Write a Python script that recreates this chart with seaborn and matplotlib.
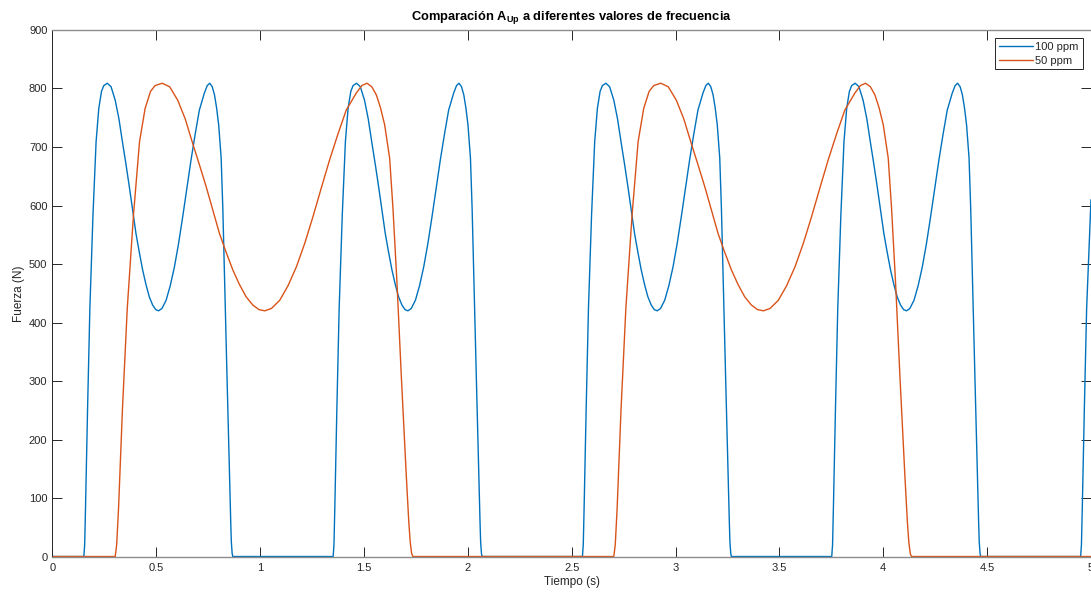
import matplotlib
matplotlib.use('Agg')
import matplotlib.pyplot as plt
import seaborn as sns
from matplotlib.ticker import FixedLocator, FixedFormatter

# ---------------- data ----------------
# 100 ppm series (time in s, force in N)
blue_t = [0.0,
    0.152, 0.156, 0.160, 0.170, 0.181, 0.196, 0.211, 0.224, 0.237, 0.248, 0.265, 0.283, 0.303,
    0.321, 0.339, 0.355, 0.371, 0.387, 0.403, 0.419, 0.435, 0.451, 0.467, 0.483, 0.498, 0.512,
    0.528, 0.548, 0.568, 0.588, 0.608, 0.628, 0.648, 0.668, 0.688, 0.708, 0.732, 0.746, 0.758,
    0.770, 0.781, 0.791, 0.801, 0.813, 0.821, 0.830, 0.841, 0.853, 0.859, 0.862, 0.866, 0.869,
    1.352, 1.356, 1.360, 1.370, 1.381, 1.396, 1.411, 1.424, 1.437, 1.448, 1.465, 1.483, 1.503,
    1.521, 1.539, 1.555, 1.571, 1.587, 1.603, 1.619, 1.635, 1.651, 1.667, 1.683, 1.698, 1.712,
    1.728, 1.748, 1.768, 1.788, 1.808, 1.828, 1.848, 1.868, 1.888, 1.908, 1.932, 1.946, 1.958,
    1.970, 1.981, 1.991, 2.001, 2.013, 2.021, 2.030, 2.041, 2.053, 2.059, 2.062, 2.066, 2.069,
    2.552, 2.556, 2.560, 2.570, 2.581, 2.596, 2.611, 2.624, 2.637, 2.648, 2.665, 2.683, 2.703,
    2.721, 2.739, 2.755, 2.771, 2.787, 2.803, 2.819, 2.835, 2.851, 2.867, 2.883, 2.898, 2.912,
    2.928, 2.948, 2.968, 2.988, 3.008, 3.028, 3.048, 3.068, 3.088, 3.108, 3.132, 3.146, 3.158,
    3.170, 3.181, 3.191, 3.201, 3.213, 3.221, 3.230, 3.241, 3.253, 3.259, 3.262, 3.266, 3.269,
    3.752, 3.756, 3.760, 3.770, 3.781, 3.796, 3.811, 3.824, 3.837, 3.848, 3.865, 3.883, 3.903,
    3.921, 3.939, 3.955, 3.971, 3.987, 4.003, 4.019, 4.035, 4.051, 4.067, 4.083, 4.098, 4.112,
    4.128, 4.148, 4.168, 4.188, 4.208, 4.228, 4.248, 4.268, 4.288, 4.308, 4.332, 4.346, 4.358,
    4.370, 4.381, 4.391, 4.401, 4.413, 4.421, 4.430, 4.441, 4.453, 4.459, 4.462, 4.466, 4.469,
    4.950, 4.954, 4.958, 4.968, 4.979, 5.000]
blue_f = [0,
    0, 20, 82, 253, 424, 584, 709, 766, 795, 805, 809, 803, 780,
    748, 706, 670, 632, 592, 552, 520, 490, 465, 444, 430, 422, 420,
    424, 438, 463, 495, 535, 581, 630, 678, 722, 763, 792, 805, 809,
    803, 789, 767, 738, 681, 595, 470, 310, 139, 60, 25, 5, 0,
    0, 20, 82, 253, 424, 584, 709, 766, 795, 805, 809, 803, 780,
    748, 706, 670, 632, 592, 552, 520, 490, 465, 444, 430, 422, 420,
    424, 438, 463, 495, 535, 581, 630, 678, 722, 763, 792, 805, 809,
    803, 789, 767, 738, 681, 595, 470, 310, 139, 60, 25, 5, 0,
    0, 20, 82, 253, 424, 584, 709, 766, 795, 805, 809, 803, 780,
    748, 706, 670, 632, 592, 552, 520, 490, 465, 444, 430, 422, 420,
    424, 438, 463, 495, 535, 581, 630, 678, 722, 763, 792, 805, 809,
    803, 789, 767, 738, 681, 595, 470, 310, 139, 60, 25, 5, 0,
    0, 20, 82, 253, 424, 584, 709, 766, 795, 805, 809, 803, 780,
    748, 706, 670, 632, 592, 552, 520, 490, 465, 444, 430, 422, 420,
    424, 438, 463, 495, 535, 581, 630, 678, 722, 763, 792, 805, 809,
    803, 789, 767, 738, 681, 595, 470, 310, 139, 60, 25, 5, 0,
    0, 20, 82, 253, 424, 610]

# 50 ppm series
orange_t = [0.0,
    0.303, 0.310, 0.319, 0.338, 0.361, 0.391, 0.420, 0.447, 0.473, 0.495, 0.529, 0.565, 0.604,
    0.640, 0.676, 0.708, 0.741, 0.773, 0.805, 0.837, 0.869, 0.901, 0.933, 0.965, 0.995, 1.023,
    1.055, 1.095, 1.135, 1.175, 1.215, 1.255, 1.295, 1.335, 1.375, 1.415, 1.463, 1.490, 1.515,
    1.538, 1.560, 1.580, 1.600, 1.624, 1.640, 1.659, 1.680, 1.704, 1.716, 1.723, 1.730, 1.736,
    2.703, 2.710, 2.719, 2.738, 2.761, 2.791, 2.820, 2.847, 2.873, 2.895, 2.929, 2.965, 3.004,
    3.040, 3.076, 3.108, 3.141, 3.173, 3.205, 3.237, 3.269, 3.301, 3.333, 3.365, 3.395, 3.423,
    3.455, 3.495, 3.535, 3.575, 3.615, 3.655, 3.695, 3.735, 3.775, 3.815, 3.863, 3.890, 3.915,
    3.938, 3.960, 3.980, 4.000, 4.024, 4.040, 4.059, 4.080, 4.104, 4.116, 4.123, 4.130, 4.136,
    5.000]
orange_f = [0,
    0, 20, 82, 253, 424, 584, 709, 766, 795, 805, 809, 803, 780,
    748, 706, 670, 632, 592, 552, 520, 490, 465, 444, 430, 422, 420,
    424, 438, 463, 495, 535, 581, 630, 678, 722, 763, 792, 805, 809,
    803, 789, 767, 738, 681, 595, 470, 310, 139, 60, 25, 5, 0,
    0, 20, 82, 253, 424, 584, 709, 766, 795, 805, 809, 803, 780,
    748, 706, 670, 632, 592, 552, 520, 490, 465, 444, 430, 422, 420,
    424, 438, 463, 495, 535, 581, 630, 678, 722, 763, 792, 805, 809,
    803, 789, 767, 738, 681, 595, 470, 310, 139, 60, 25, 5, 0,
    0]

series_labels = ['100 ppm', '50 ppm']
x_ticks = [0, 0.5, 1, 1.5, 2, 2.5, 3, 3.5, 4, 4.5, 5]
x_tick_labels = ['0', '0.5', '1', '1.5', '2', '2.5', '3', '3.5', '4', '4.5', '5']
y_ticks = [0, 100, 200, 300, 400, 500, 600, 700, 800, 900]
y_tick_labels = ['0', '100', '200', '300', '400', '500', '600', '700', '800', '900']

# ---------------- styling ----------------
sns.set_style('ticks')
plt.rcParams['font.family'] = ['Liberation Sans', 'DejaVu Sans']
plt.rcParams['mathtext.fontset'] = 'custom'
plt.rcParams['mathtext.rm'] = 'Liberation Sans'
plt.rcParams['mathtext.bf'] = 'Liberation Sans:bold'
plt.rcParams['mathtext.it'] = 'Liberation Sans:italic'

dark = '#262626'
fig = plt.figure(figsize=(10.91, 5.94), dpi=100)
ax = fig.add_axes([0.0479, 0.0631, 0.9521, 0.8864])

sns.lineplot(x=blue_t, y=blue_f, ax=ax, color='#0072BD', linewidth=1.0,
             label=series_labels[0], estimator=None, sort=False)
sns.lineplot(x=orange_t, y=orange_f, ax=ax, color='#D95319', linewidth=1.0,
             label=series_labels[1], estimator=None, sort=False)

ax.set_xlim(0, 5)
ax.set_ylim(0, 900)
ax.xaxis.set_major_locator(FixedLocator(x_ticks))
ax.xaxis.set_major_formatter(FixedFormatter(x_tick_labels))
ax.yaxis.set_major_locator(FixedLocator(y_ticks))
ax.yaxis.set_major_formatter(FixedFormatter(y_tick_labels))

ax.tick_params(axis='both', direction='in', length=7.5, width=0.7, colors=dark,
               top=True, right=True, labelsize=8)
ax.tick_params(axis='x', pad=5)
ax.tick_params(axis='y', pad=3.5)

for side in ['left', 'right']:
    ax.spines[side].set_color(dark)
    ax.spines[side].set_linewidth(0.7)
for side in ['top', 'bottom']:
    ax.spines[side].set_color('#8c8c8c')
    ax.spines[side].set_linewidth(1.0)

ax.set_xlabel('Tiempo (s)', fontsize=8.5, color=dark, labelpad=2)
ax.set_ylabel('Fuerza (N)', fontsize=8.5, color=dark, labelpad=3)
ax.set_title(r'Comparación $\mathbf{A_{Up}}$ a diferentes valores de frecuencia',
             fontsize=9.25, fontweight='bold', color='black', pad=7)

leg = ax.legend(loc='upper right', fontsize=8, frameon=True, fancybox=False,
                edgecolor=dark, framealpha=1, handlelength=3.0,
                borderaxespad=0.75, borderpad=0.35, labelspacing=0.3,
                handletextpad=0.25)
leg.get_frame().set_linewidth(0.7)

fig.savefig('out.png', dpi=100)
